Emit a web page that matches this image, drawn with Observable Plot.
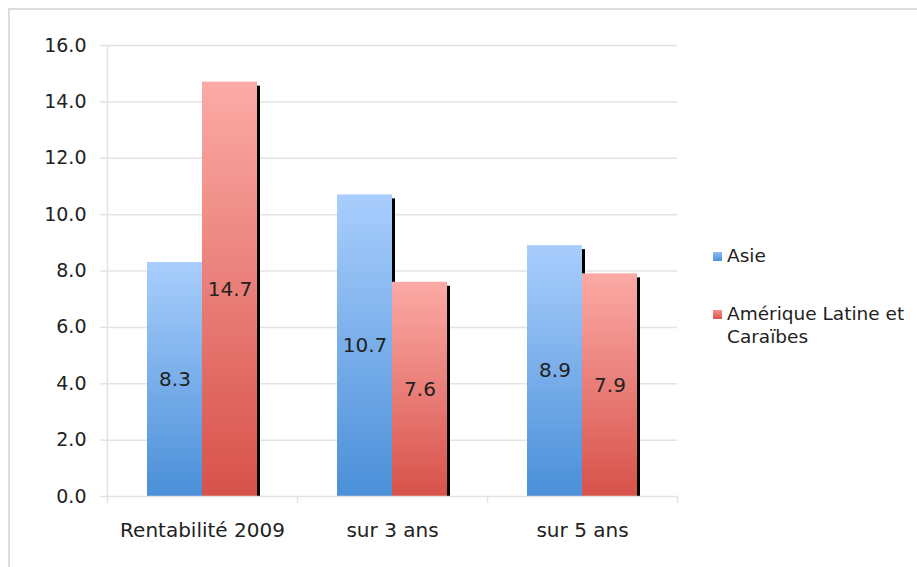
<!DOCTYPE html>
<html>
<head>
<meta charset="utf-8">
<script src="https://cdn.jsdelivr.net/npm/d3@7"></script>
<script src="https://cdn.jsdelivr.net/npm/@observablehq/plot@0.6"></script>
<style>
  html, body { margin: 0; padding: 0; background: #fff; }
  #wrap { position: relative; width: 917px; height: 567px; overflow: hidden; font-family: "DejaVu Sans", sans-serif; }
  #frame { position: absolute; left: 8px; top: 8px; width: 940px; height: 600px; border-left: 2px solid #dcdcdc; border-top: 2px solid #dcdcdc; box-sizing: border-box; }
  #chart { position: absolute; left: 0; top: 0; }
  .legend { position: absolute; left: 713px; font-size: 18.5px; color: #222; line-height: 23px; }
  .legend .sw { position: absolute; left: 0; top: 8px; width: 9px; height: 9px; }
  .legend .lb { margin-left: 14px; white-space: nowrap; }
</style>
</head>
<body>
<div id="wrap">
  <div id="frame"></div>
  <div id="chart"></div>
  <div class="legend" style="top:244px"><span class="sw" style="background:linear-gradient(#8dbdf6,#4a90d9)"></span><div class="lb">Asie</div></div>
  <div class="legend" style="top:302px"><span class="sw" style="background:linear-gradient(#f7918b,#d8544a)"></span><div class="lb">Amérique Latine et<br>Caraïbes</div></div>
</div>
<script>
// Rendement par horizon : Asie vs Amérique Latine et Caraïbes
const categories = ["Rentabilité 2009", "sur 3 ans", "sur 5 ans"];
const asie = [8.3, 10.7, 8.9];
const amerique = [14.7, 7.6, 7.9];
const yTicks = [0, 2, 4, 6, 8, 10, 12, 14, 16];

const asieData = categories.map((c, i) => ({category: c, value: asie[i]}));
const ameriqueData = categories.map((c, i) => ({category: c, value: amerique[i]}));

const W = 917, H = 567;
const mL = 107, mR = 240, mT = 45, mB = 71;
const BAND = (W - mL - mR) / categories.length;   // width of one category slot
const BAR = 55;                                     // width of one bar
const OUT = (BAND - 2 * BAR) / 2;                   // empty space either side of a pair
const SH = 3;                                       // shadow width
const grid = "#e3e3e3";

// vertical gradients used to fill the bars
const defs = () => {
  const g = d3.create("svg:defs");
  const add = (id, top, bottom) => {
    const lg = g.append("linearGradient").attr("id", id).attr("x1", 0).attr("y1", 0).attr("x2", 0).attr("y2", 1);
    lg.append("stop").attr("offset", "0%").attr("stop-color", top);
    lg.append("stop").attr("offset", "100%").attr("stop-color", bottom);
  };
  add("grad-asie", "#a9cefd", "#4a8fd8");
  add("grad-amerique", "#fcaaa6", "#d7524a");
  return g.node();
};

const valueLabel = (data, dx) => Plot.text(data, {
  x: "category", y: d => d.value / 2, text: d => d.value.toFixed(1), dx,
  fontSize: 20, fill: "#222"
});

const chart = Plot.plot({
  width: W, height: H,
  marginLeft: mL, marginRight: mR, marginTop: mT, marginBottom: mB,
  style: {fontFamily: "DejaVu Sans, sans-serif", background: "transparent"},
  x: {domain: categories, padding: 0, label: null},
  y: {domain: [0, 16], label: null},
  marks: [
    defs,
    Plot.ruleY(yTicks.slice(1), {stroke: grid, strokeWidth: 1.5}),
    Plot.axisY({ticks: yTicks, tickFormat: d3.format(".1f"), tickSize: 7, tickPadding: 14,
      stroke: grid, strokeWidth: 1.5, strokeOpacity: 1, fontSize: 19, fill: "#222", label: null}),
    Plot.ruleX([categories[0]], {dx: -BAND / 2, stroke: grid, strokeWidth: 1.5}),
    // drop shadows on the right edge of each bar, drawn underneath the bars
    Plot.barY(asieData, {x: "category", y: "value", fill: "#000", dx: SH,
      insetLeft: OUT + BAR - SH, insetRight: BAND - OUT - BAR, insetTop: 4}),
    Plot.barY(ameriqueData, {x: "category", y: "value", fill: "#000", dx: SH,
      insetLeft: OUT + 2 * BAR - SH, insetRight: OUT, insetTop: 4}),
    Plot.barY(asieData, {x: "category", y: "value", fill: "url(#grad-asie)",
      insetLeft: OUT, insetRight: BAND - OUT - BAR}),
    Plot.barY(ameriqueData, {x: "category", y: "value", fill: "url(#grad-amerique)",
      insetLeft: OUT + BAR, insetRight: OUT}),
    Plot.ruleY([0], {stroke: grid, strokeWidth: 1.5}),
    Plot.axisX({ticks: categories, dx: BAND / 2, text: null, tickSize: 7,
      stroke: grid, strokeWidth: 1.5, strokeOpacity: 1, label: null}),
    Plot.axisX({ticks: [categories[0]], dx: -BAND / 2, text: null, tickSize: 7,
      stroke: grid, strokeWidth: 1.5, strokeOpacity: 1, label: null}),
    Plot.axisX({ticks: categories, tickSize: 0, tickPadding: 26, fontSize: 20, fill: "#222", label: null}),
    valueLabel(asieData, -(BAR / 2)),
    valueLabel(ameriqueData, BAR / 2)
  ]
});
document.getElementById("chart").appendChild(chart);
</script>
</body>
</html>
